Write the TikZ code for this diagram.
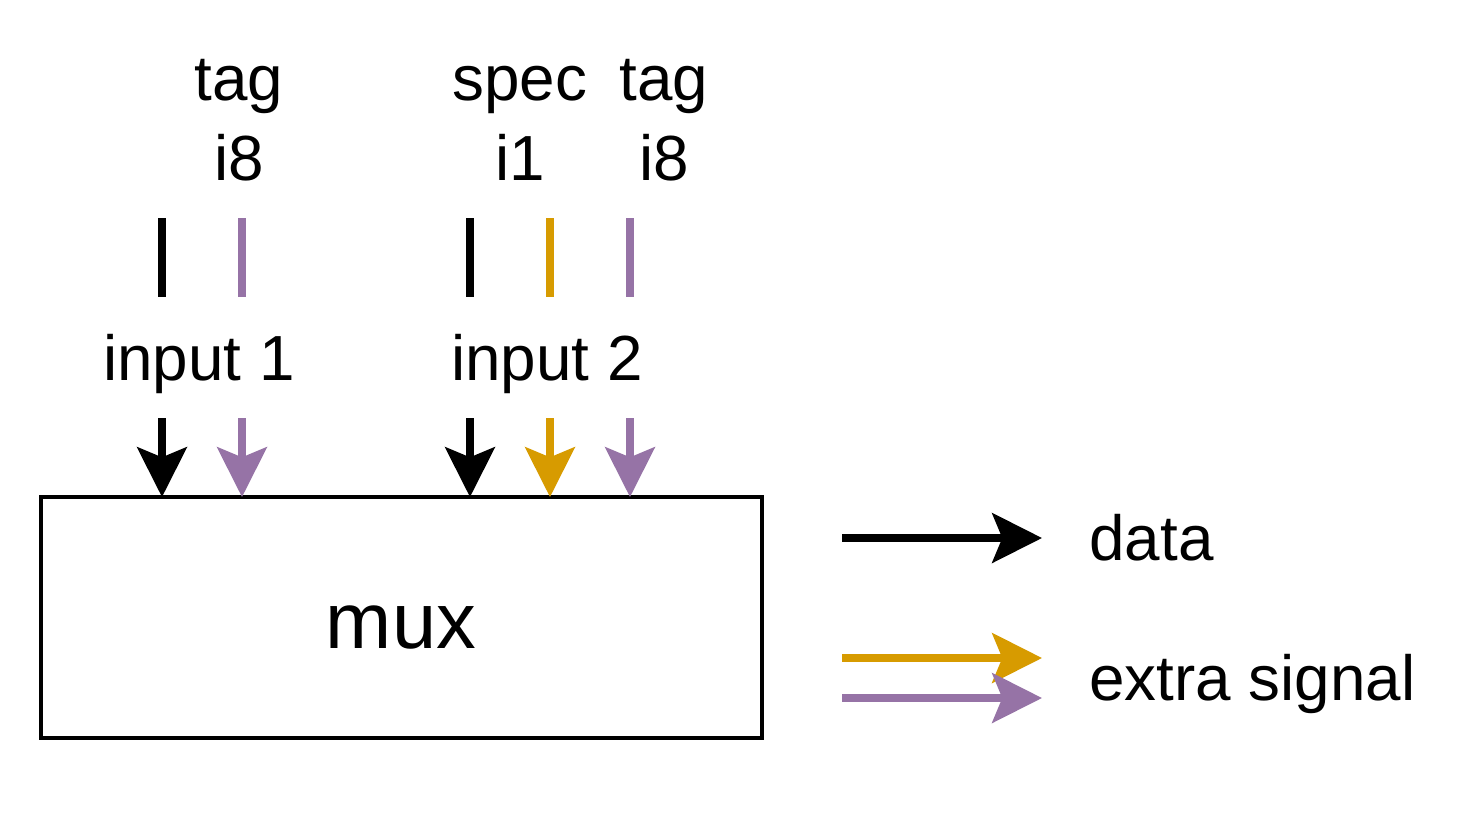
\documentclass[tikz,border=0pt]{standalone}
\usepackage{fontspec}
\setmainfont{Liberation Sans}
\usetikzlibrary{arrows.meta}
\definecolor{purp}{HTML}{9673A6}
\definecolor{oran}{HTML}{D79B00}
\tikzset{
  lbl/.style={anchor=base, inner sep=0pt, font=\fontsize{36.3pt}{41pt}\selectfont},
  bigl/.style={anchor=base, inner sep=0pt, font=\fontsize{45.2pt}{51pt}\selectfont},
  bar/.style={line width=4.5pt},
  sig/.style={line width=4.5pt, -{Stealth[length=28.3pt, width=28.3pt, inset=5.7pt]}},
  box/.style={draw, line width=1.8pt, inner sep=0pt}
}
\begin{document}
\begin{tikzpicture}[x=0.02cm, y=-0.02cm]
\useasboundingbox (0,0) rectangle (1484,816);
% box
\draw[box] (41,497) rectangle (762,738);
\coordinate (boxtop) at (0,497);
\node[bigl] (mux) at (401,648) {mux};
% top labels
\node[lbl] (tag1) at (239,100) {tag};
\node[lbl] (i8a) at (239,180) {i8};
\node[lbl] (spec) at (520,100) {spec};
\node[lbl] (i1) at (520,180) {i1};
\node[lbl] (tag2) at (664,100) {tag};
\node[lbl] (i8b) at (664,180) {i8};
% bars
\foreach \x/\c/\n in {162/black/a,242/purp/b,470/black/c,550/oran/d,630/purp/e}{
  \coordinate (bt\n) at (\x,218);
  \coordinate (bb\n) at (\x,297);
  \draw[bar, \c] (bt\n) -- (bb\n);
}
% input labels
\node[lbl] (in1) at (199,380) {input 1};
\node[lbl] (in2) at (547,380) {input 2};
% arrows into box
\foreach \x/\c/\n in {162/black/a,242/purp/b,470/black/c,550/oran/d,630/purp/e}{
  \coordinate (as\n) at (\x,418);
  \draw[sig, \c] (as\n) -- (as\n |- boxtop);
}
% legend
\coordinate (l1s) at (842,538); \coordinate (l1e) at (1042,538);
\coordinate (l2s) at (842,658); \coordinate (l2e) at (1042,658);
\coordinate (l3s) at (842,698); \coordinate (l3e) at (1042,698);
\draw[sig, black] (l1s) -- (l1e);
\draw[sig, oran] (l2s) -- (l2e);
\draw[sig, purp] (l3s) -- (l3e);
\node[lbl, anchor=base west] (data) at (1089,560) {data};
\node[lbl, anchor=base west] (extra) at (1089,700) {extra signal};
\end{tikzpicture}
\end{document}
